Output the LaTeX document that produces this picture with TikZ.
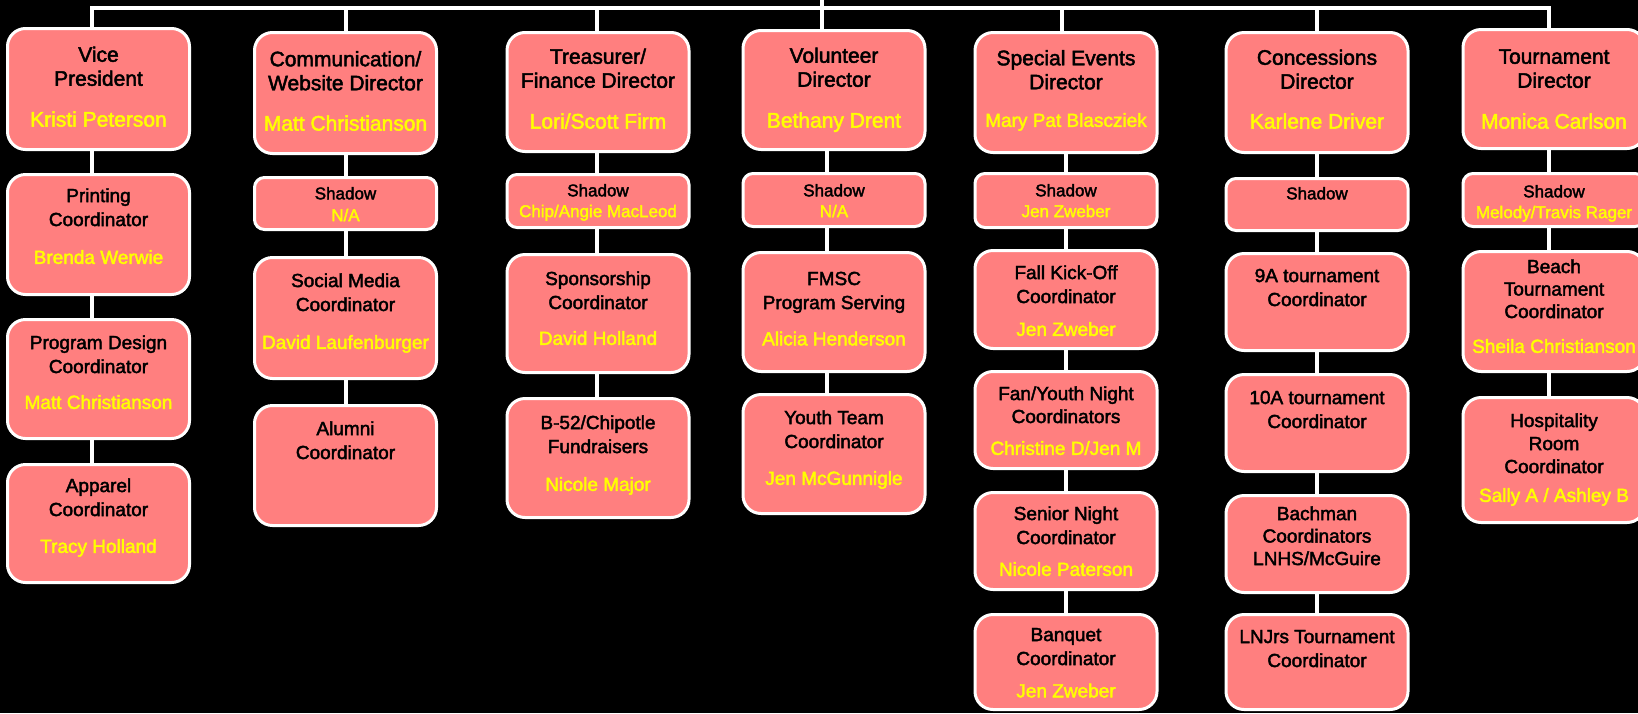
\documentclass[tikz,border=0pt]{standalone}
\usepackage{fontspec}
\setmainfont{Liberation Sans}[FakeBold=2.2]
\definecolor{boxfill}{HTML}{FF7F7F}
\definecolor{nameyellow}{HTML}{FFFF00}
\tikzset{
  box/.style={draw=white, line width=3pt, fill=boxfill, rounded corners=18pt, minimum width=182pt, inner sep=0pt},
  sbox/.style={box, rounded corners=10pt},
  ttl/.style={inner sep=0pt, align=center, text=black},
  nm/.style={inner sep=0pt, text=nameyellow},
  conn/.style={draw=white, line width=3.5pt},
}
\newcommand\OrgBox[5][box]{\node[#1, minimum height={#5-#4-3}] (#2) at (#3,{(#4+#5)/2}) {};}
\newcommand\OrgTitle[6]{\node[ttl, font=\fontsize{#4}{#5}\selectfont, anchor=north] (#1) at (#2,{#3-0.39*#4}) {\rule{0pt}{0.75em}#6};}
\newcommand\OrgName[5]{\node[nm, font=\fontsize{#4}{#4}\selectfont, anchor=base] (#1) at (#2,{#3+0.36*#4}) {#5};}
\begin{document}
\begin{tikzpicture}[x=1pt,y=-1pt]
\useasboundingbox (0,0) rectangle (1638,713);
\clip (0,0) rectangle (1638,713);
\fill[black] (0,0) rectangle (1638,713);

% ---- VP column
\OrgBox{vp}{98.5}{27}{151}
\OrgTitle{vp-t}{98.5}{54}{21}{24}{Vice\\President}
\OrgName{vp-n}{98.5}{119}{21}{Kristi Peterson}
\OrgBox{print}{98.5}{173}{296}
\OrgTitle{print-t}{98.5}{195}{19}{24}{Printing\\Coordinator}
\OrgName{print-n}{98.5}{257}{19}{Brenda Werwie}
\OrgBox{prog}{98.5}{318}{440}
\OrgTitle{prog-t}{98.5}{342}{19}{24}{Program Design\\Coordinator}
\OrgName{prog-n}{98.5}{402}{19}{Matt Christianson}
\OrgBox{app}{98.5}{463}{584}
\OrgTitle{app-t}{98.5}{485}{19}{24}{Apparel\\Coordinator}
\OrgName{app-n}{98.5}{546}{19}{Tracy Holland}

% ---- Communication column
\OrgBox{comm}{345.5}{31}{155}
\OrgTitle{comm-t}{345.5}{58.5}{21}{24}{Communication/\\Website Director}
\OrgName{comm-n}{345.5}{123}{21}{Matt Christianson}
\OrgBox[sbox]{commsh}{345.5}{176}{231}
\OrgTitle{commsh-t}{345.5}{193}{17}{22}{Shadow}
\OrgName{commsh-n}{345.5}{215}{17}{N/A}
\OrgBox{social}{345.5}{256}{380}
\OrgTitle{social-t}{345.5}{280}{19}{24}{Social Media\\Coordinator}
\OrgName{social-n}{345.5}{342}{19}{David Laufenburger}
\OrgBox{alumni}{345.5}{404}{527}
\OrgTitle{alumni-t}{345.5}{428}{19}{24}{Alumni\\Coordinator}

% ---- Treasurer column
\OrgBox{treas}{598}{31}{153}
\OrgTitle{treas-t}{598}{56}{21}{24}{Treasurer/\\Finance Director}
\OrgName{treas-n}{598}{121}{21}{Lori/Scott Firm}
\OrgBox[sbox]{treassh}{598}{173}{229}
\OrgTitle{treassh-t}{598}{190}{17}{22}{Shadow}
\OrgName{treassh-n}{598}{211}{17}{Chip/Angie MacLeod}
\OrgBox{spons}{598}{253}{374}
\OrgTitle{spons-t}{598}{278}{19}{24}{Sponsorship\\Coordinator}
\OrgName{spons-n}{598}{338}{19}{David Holland}
\OrgBox{b52}{598}{397}{519}
\OrgTitle{b52-t}{598}{422}{19}{24}{B-52/Chipotle\\Fundraisers}
\OrgName{b52-n}{598}{484}{19}{Nicole Major}

% ---- Volunteer column
\OrgBox{vol}{834}{29}{151}
\OrgTitle{vol-t}{834}{55}{21}{24}{Volunteer\\Director}
\OrgName{vol-n}{834}{120}{21}{Bethany Drent}
\OrgBox[sbox]{volsh}{834}{172}{228}
\OrgTitle{volsh-t}{834}{190}{17}{22}{Shadow}
\OrgName{volsh-n}{834}{211}{17}{N/A}
\OrgBox{fmsc}{834}{251}{373}
\OrgTitle{fmsc-t}{834}{278}{19}{24}{FMSC\\Program Serving}
\OrgName{fmsc-n}{834}{338.5}{19}{Alicia Henderson}
\OrgBox{youth}{834}{393}{515}
\OrgTitle{youth-t}{834}{417}{19}{24}{Youth Team\\Coordinator}
\OrgName{youth-n}{834}{478}{19}{Jen McGunnigle}

% ---- Special events column
\OrgBox{spec}{1066}{31}{154}
\OrgTitle{spec-t}{1066}{57.5}{21}{24}{Special Events\\Director}
\OrgName{spec-n}{1066}{120}{19}{Mary Pat Blascziek}
\OrgBox[sbox]{specsh}{1066}{172}{229}
\OrgTitle{specsh-t}{1066}{190}{17}{22}{Shadow}
\OrgName{specsh-n}{1066}{211}{17}{Jen Zweber}
\OrgBox{fall}{1066}{249}{350}
\OrgTitle{fall-t}{1066}{272}{19}{24}{Fall Kick-Off\\Coordinator}
\OrgName{fall-n}{1066}{329}{19}{Jen Zweber}
\OrgBox{fan}{1066}{370}{470}
\OrgTitle{fan-t}{1066}{393}{19}{23}{Fan/Youth Night\\Coordinators}
\OrgName{fan-n}{1066}{448}{19}{Christine D/Jen M}
\OrgBox{senior}{1066}{491}{591}
\OrgTitle{senior-t}{1066}{513}{19}{24}{Senior Night\\Coordinator}
\OrgName{senior-n}{1066}{569}{19}{Nicole Paterson}
\OrgBox{banq}{1066}{613}{711}
\OrgTitle{banq-t}{1066}{634}{19}{24}{Banquet\\Coordinator}
\OrgName{banq-n}{1066}{690.5}{19}{Jen Zweber}

% ---- Concessions column
\OrgBox{conc}{1317}{31}{154}
\OrgTitle{conc-t}{1317}{57}{21}{24}{Concessions\\Director}
\OrgName{conc-n}{1317}{121}{21}{Karlene Driver}
\OrgBox[sbox]{concsh}{1317}{177}{232}
\OrgTitle{concsh-t}{1317}{193}{17}{22}{Shadow}
\OrgBox{nine}{1317}{252}{352}
\OrgTitle{nine-t}{1317}{275}{19}{24}{9A tournament\\Coordinator}
\OrgBox{ten}{1317}{373}{473}
\OrgTitle{ten-t}{1317}{397}{19}{24}{10A tournament\\Coordinator}
\OrgBox{bach}{1317}{494}{594}
\OrgTitle{bach-t}{1317}{513}{19}{22.5}{Bachman\\Coordinators\\LNHS/McGuire}
\OrgBox{lnjrs}{1317}{613}{711}
\OrgTitle{lnjrs-t}{1317}{636}{19}{24}{LNJrs Tournament\\Coordinator}

% ---- Tournament column
\OrgBox{tourn}{1554}{28}{150}
\OrgTitle{tourn-t}{1554}{56}{21}{24}{Tournament\\Director}
\OrgName{tourn-n}{1554}{121}{21}{Monica Carlson}
\OrgBox[sbox]{tournsh}{1554}{172}{228}
\OrgTitle{tournsh-t}{1554}{191}{17}{22}{Shadow}
\OrgName{tournsh-n}{1554}{212}{17}{Melody/Travis Rager}
\OrgBox{beach}{1554}{250}{373}
\OrgTitle{beach-t}{1554}{266}{19}{22.5}{Beach\\Tournament\\Coordinator}
\OrgName{beach-n}{1554}{346}{19}{Sheila Christianson}
\OrgBox{hosp}{1554}{396}{524}
\OrgTitle{hosp-t}{1554}{420}{19}{23}{Hospitality\\Room\\Coordinator}
\OrgName{hosp-n}{1554}{495}{19}{Sally A / Ashley B}

% ---- connectors
\coordinate (root) at (822,0);
\coordinate (d1) at (92,8);
\coordinate (d2) at (346,8);
\coordinate (d3) at (597,8);
\coordinate (d4) at (822,8);
\coordinate (c4) at (827,8);
\coordinate (d5) at (1062,8);
\coordinate (c5) at (1066,8);
\coordinate (d6) at (1317,8);
\coordinate (d7) at (1549,8);

\draw[conn, line join=miter] (vp.north -| d1) -- (d1) -- (d7) -- (tourn.north -| d7);
\draw[conn] (root) -- (d4);
\draw[conn] (d2) -- (comm.north -| d2);
\draw[conn] (d3) -- (treas.north -| d3);
\draw[conn] (d4) -- (vol.north -| d4);
\draw[conn] (d5) -- (spec.north -| d5);
\draw[conn] (d6) -- (conc.north -| d6);

\draw[conn] (vp.south -| d1) -- (print.north -| d1);
\draw[conn] (print.south -| d1) -- (prog.north -| d1);
\draw[conn] (prog.south -| d1) -- (app.north -| d1);

\draw[conn] (comm.south -| d2) -- (commsh.north -| d2);
\draw[conn] (commsh.south -| d2) -- (social.north -| d2);
\draw[conn] (social.south -| d2) -- (alumni.north -| d2);

\draw[conn] (treas.south -| d3) -- (treassh.north -| d3);
\draw[conn] (treassh.south -| d3) -- (spons.north -| d3);
\draw[conn] (spons.south -| d3) -- (b52.north -| d3);

\draw[conn] (vol.south -| c4) -- (volsh.north -| c4);
\draw[conn] (volsh.south -| c4) -- (fmsc.north -| c4);
\draw[conn] (fmsc.south -| c4) -- (youth.north -| c4);

\draw[conn] (spec.south -| c5) -- (specsh.north -| c5);
\draw[conn] (specsh.south -| c5) -- (fall.north -| c5);
\draw[conn] (fall.south -| c5) -- (fan.north -| c5);
\draw[conn] (fan.south -| c5) -- (senior.north -| c5);
\draw[conn] (senior.south -| c5) -- (banq.north -| c5);

\draw[conn] (conc.south -| d6) -- (concsh.north -| d6);
\draw[conn] (concsh.south -| d6) -- (nine.north -| d6);
\draw[conn] (nine.south -| d6) -- (ten.north -| d6);
\draw[conn] (ten.south -| d6) -- (bach.north -| d6);
\draw[conn] (bach.south -| d6) -- (lnjrs.north -| d6);

\draw[conn] (tourn.south -| d7) -- (tournsh.north -| d7);
\draw[conn] (tournsh.south -| d7) -- (beach.north -| d7);
\draw[conn] (beach.south -| d7) -- (hosp.north -| d7);
\end{tikzpicture}
\end{document}
